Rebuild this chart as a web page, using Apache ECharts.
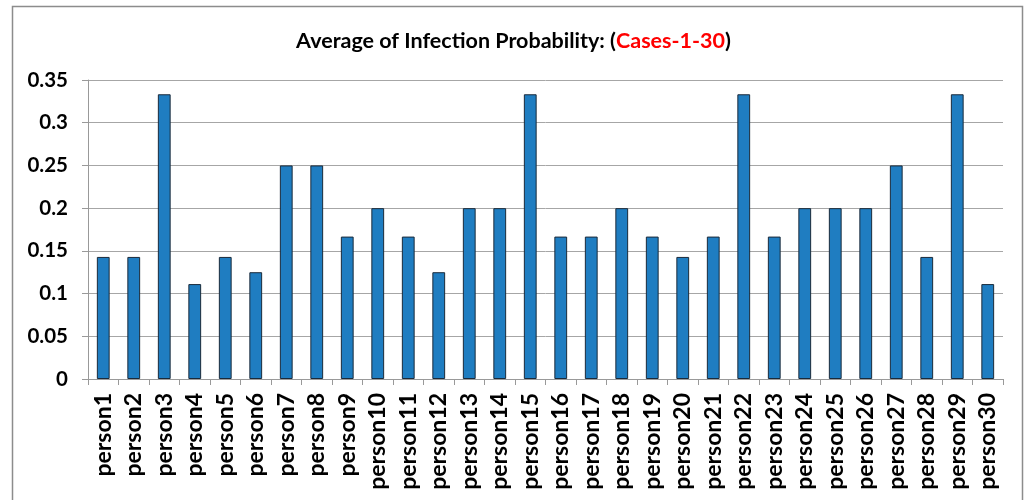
<!DOCTYPE html>
<html>
<head>
<meta charset="utf-8">
<script src="https://cdn.jsdelivr.net/npm/echarts@6/dist/echarts.min.js"></script>
<style>html,body{margin:0;padding:0;background:#fff;}#c{width:1027px;height:500px;}</style>
</head>
<body>
<div id="c"></div>
<script>
const categories = ['person1','person2','person3','person4','person5','person6','person7','person8','person9','person10',
  'person11','person12','person13','person14','person15','person16','person17','person18','person19','person20',
  'person21','person22','person23','person24','person25','person26','person27','person28','person29','person30'];
const values = [0.1429,0.1429,0.3333,0.1111,0.1429,0.125,0.25,0.25,0.1667,0.2,
  0.1667,0.125,0.2,0.2,0.3333,0.1667,0.1667,0.2,0.1667,0.1429,
  0.1667,0.3333,0.1667,0.2,0.2,0.2,0.25,0.1429,0.3333,0.1111];
const yTicks = [0,0.05,0.1,0.15,0.2,0.25,0.3,0.35];
const titleMain = 'Average of Infection Probability: (';
const titleRed = 'Cases-1-30';
const titleEnd = ')';

const FONT = 'Lato';
const chart = echarts.init(document.getElementById('c'), null, {renderer:'canvas'});
chart.setOption({
  animation: false,
  backgroundColor: '#fff',
  textStyle: {fontFamily: FONT},
  title: {
    text: '{a|' + titleMain + '}{r|' + titleRed + '}{a|' + titleEnd + '}',
    left: 'center', top: 25,
    textStyle: {
      rich: {
        a: {fontFamily: FONT, fontWeight: 'bold', fontSize: 21.5, color: '#000'},
        r: {fontFamily: FONT, fontWeight: 'bold', fontSize: 21.5, color: '#ff0000'}
      }
    }
  },
  graphic: [{
    type: 'rect', shape: {x: 12.5, y: 6.5, width: 1010, height: 510},
    style: {fill: 'none', stroke: '#8c8c8c', lineWidth: 1.5}, silent: true, z: -1
  }],
  grid: {left: 88, right: 24, top: 80, bottom: 121, containLabel: false},
  xAxis: {
    type: 'category', data: categories,
    axisLine: {show: true, lineStyle: {color: '#999', width: 1}},
    axisTick: {show: true, length: 6, lineStyle: {color: '#999'}, alignWithLabel: false},
    axisLabel: {rotate: 90, interval: 0, fontFamily: FONT, fontWeight: 'bold', fontSize: 23, color: '#000', margin: 14}
  },
  yAxis: {
    type: 'value', min: yTicks[0], max: yTicks[yTicks.length-1], interval: 0.05,
    axisLine: {show: true, lineStyle: {color: '#999'}},
    axisTick: {show: true, length: 6, lineStyle: {color: '#999'}},
    splitLine: {show: true, lineStyle: {color: '#a6a6a6', width: 1}},
    axisLabel: {fontFamily: FONT, fontWeight: 'bold', fontSize: 20.5, color: '#000', margin: 20,
      formatter: v => String(+v.toFixed(2))}
  },
  series: [{
    type: 'bar', data: values, barWidth: '42%',
    itemStyle: {color: '#1f7dc1', borderColor: '#1a2a3a', borderWidth: 1}
  }]
});
</script>
</body>
</html>
